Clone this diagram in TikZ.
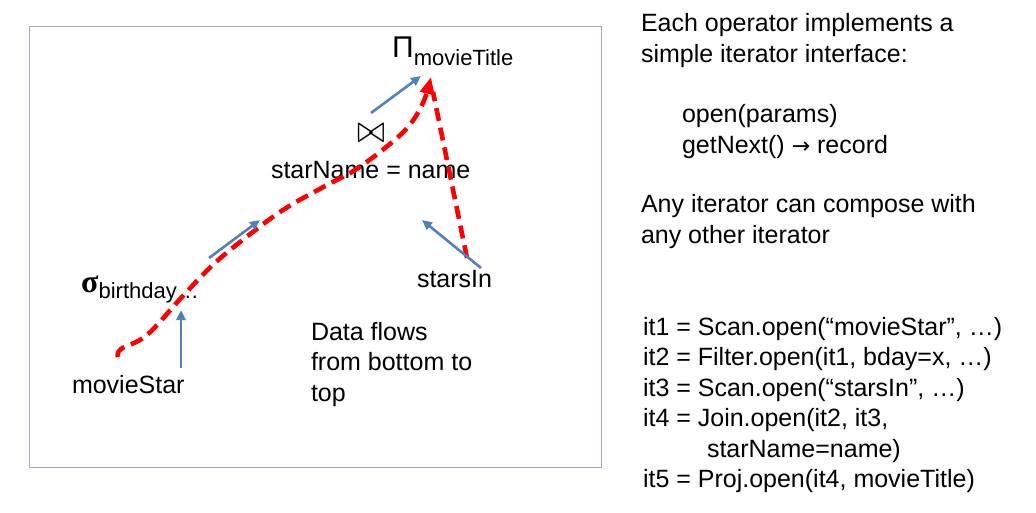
\documentclass[tikz,border=0pt]{standalone}
\usepackage{fontspec}
\setmainfont{Liberation Sans}
\newfontfamily\symfont{DejaVu Sans}
\newfontfamily\greekserif{Liberation Serif}
\usetikzlibrary{arrows.meta}
\definecolor{flowblue}{RGB}{79,129,189}
\definecolor{boxpurple}{RGB}{179,162,199}
\begin{document}
\begin{tikzpicture}[x=1pt,y=-1pt,
  lbl/.style={anchor=base west, inner sep=0pt, outer sep=0pt, font=\fontsize{25}{30.5}\selectfont, align=left},
  bluearrow/.style={draw=flowblue, line width=2.6pt, -{Triangle[length=10pt,width=9pt]}},
  redflow/.style={draw=red, line width=4.6pt, dash pattern=on 13pt off 7pt}]
\useasboundingbox (0,0) rectangle (1036,513);
\node[draw=boxpurple, line width=1.3pt, minimum width=572pt, minimum height=441pt, anchor=north west, inner sep=0pt] (frame) at (29,26) {};
% operator labels
\node[anchor=base west, inner sep=0pt] (proj) at (392,58) {\fontsize{30}{30}\selectfont Π\fontsize{22}{22}\selectfont\raisebox{-8pt}{movieTitle}};
\node[inner sep=0pt] (join) at (371,134) {\resizebox{28pt}{18pt}{$\bowtie$}};
\node[lbl] (cond) at (271,179) {starName = name};
\node[anchor=base west, inner sep=0pt] (sel) at (81,292) {\fontsize{32}{32}\selectfont\greekserif\bfseries σ\fontsize{22}{22}\selectfont\rmfamily\mdseries\raisebox{-6pt}{birthday…}};
\node[lbl] (stars) at (417,287) {starsIn};
\node[lbl] (movie) at (72,393) {movieStar};
\node[lbl] (flow) at (311,401) {Data flows\\from bottom to\\top};
% right column (anchor = baseline of the last line)
\node[lbl] (intro) at (641,62.5) {Each operator implements a\\simple iterator interface:};
\node[lbl] (iface) at (682,153.5) {open(params)\\getNext() {\fontsize{22}{22}\selectfont\symfont →} record};
\node[lbl] (compose) at (641,243.5) {Any iterator can compose with\\any other iterator};
\node[lbl] (code) at (643,487.5) {it1 = Scan.open(“movieStar”, …)\\it2 = Filter.open(it1, bday=x, …)\\it3 = Scan.open(“starsIn”, …)\\it4 = Join.open(it2, it3,\\\hspace*{64pt}starName=name)\\it5 = Proj.open(it4, movieTitle)};
% red data flow
\coordinate (rtip) at (431,77);
\coordinate (rstart) at (118,357);
\coordinate (rside) at (467,258);
\coordinate (rbase) at (433,92);
\draw[redflow, -{Triangle[length=17pt,width=14pt]}] plot[smooth, tension=0.6] coordinates {(118,357) (121,349) (147,335) (182,297) (216,262) (262,225) (291,205) (329,184) (355,170) (385,148) (408,127) (423,103) (431,77)};
\draw[redflow] (rside) -- (rbase);
% blue arrows
\coordinate (b1s) at (181,368); \coordinate (b1e) at (181,310);
\coordinate (b2s) at (209,258); \coordinate (b2e) at (260,220);
\coordinate (b3s) at (371,113); \coordinate (b3e) at (421,76);
\coordinate (b4s) at (481,268); \coordinate (b4e) at (422,220);
\draw[bluearrow] (b1s) -- (b1e);
\draw[bluearrow] (b2s) -- (b2e);
\draw[bluearrow] (b3s) -- (b3e);
\draw[bluearrow] (b4s) -- (b4e);
\end{tikzpicture}
\end{document}
